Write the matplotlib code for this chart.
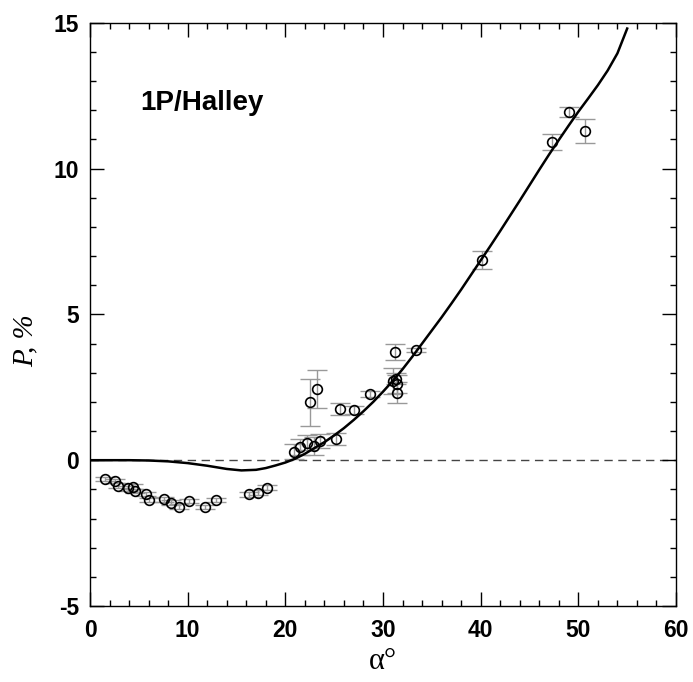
import matplotlib
matplotlib.use("Agg")
import matplotlib.pyplot as plt
from matplotlib.ticker import MultipleLocator

plt.rcParams["axes.unicode_minus"] = False

# Observed data (phase angle, polarization, error)
alpha = [1.5, 2.6, 2.9, 3.9, 4.4, 4.6, 5.7, 6.0, 7.6, 8.3, 9.1, 10.1, 11.8, 12.9,
         16.3, 17.2, 18.1,
         20.9, 21.5, 22.2, 22.9, 23.5, 22.5, 23.2, 25.2, 25.6, 27.0, 28.7,
         31.0, 31.3, 31.4, 31.4, 31.2, 33.4,
         40.1, 47.3, 49.0, 50.7]
pol = [-0.65, -0.71, -0.87, -0.96, -0.91, -1.06, -1.16, -1.36, -1.34, -1.46, -1.59, -1.40, -1.61, -1.36,
       -1.17, -1.11, -0.94,
       0.29, 0.46, 0.60, 0.49, 0.66, 1.98, 2.43, 0.73, 1.76, 1.72, 2.27,
       2.72, 2.80, 2.62, 2.32, 3.70, 3.78,
       6.86, 10.90, 11.94, 11.29]
err = [0.08, 0.08, 0.08, 0.08, 0.08, 0.08, 0.08, 0.08, 0.08, 0.08, 0.08, 0.08, 0.08, 0.08,
       0.08, 0.08, 0.08,
       0.25, 0.28, 0.25, 0.3, 0.25, 0.8, 0.65, 0.2, 0.2, 0.15, 0.1,
       0.45, 0.2, 0.3, 0.35, 0.27, 0.08,
       0.3, 0.27, 0.18, 0.4]

# Fitted curve
curve_x = [0, 2, 4, 6, 8, 10, 12, 14, 15.5, 17, 18, 19, 20, 21, 22, 23, 24, 25, 26, 27, 28,
           29, 30, 31, 32, 33, 34, 35, 36, 37, 38, 39, 40, 41, 42, 43, 44, 45, 46, 47,
           48, 49, 50, 51, 52, 53, 54, 55]
curve_y = [0.0, 0.0, 0.0, -0.01, -0.04, -0.1, -0.19, -0.3, -0.35, -0.33, -0.27, -0.18, -0.08,
           0.05, 0.22, 0.42, 0.62, 0.85, 1.1, 1.38, 1.68, 2.0, 2.35, 2.72, 3.12, 3.55, 4.0,
           4.45, 4.9, 5.37, 5.85, 6.35, 6.85, 7.35, 7.86, 8.38, 8.9, 9.43, 9.96, 10.48,
           10.98, 11.47, 11.95, 12.4, 12.86, 13.36, 13.95, 14.8]

fig = plt.figure(figsize=(6.93, 6.82), dpi=100)
ax = fig.add_axes([0.1299, 0.1114, 0.8456, 0.8553])

ax.axhline(0, color="#444444", lw=1.0, linestyle=(0, (6, 4)), zorder=1)
ax.errorbar(alpha, pol, yerr=err, fmt="none", ecolor="#999999", elinewidth=1.0,
            capsize=7.2, capthick=1.0, zorder=2)
ax.plot(curve_x, curve_y, color="black", lw=1.8, zorder=3)
ax.plot(alpha, pol, "o", mfc="none", mec="black", mew=1.2, ms=7, zorder=4)

ax.set_xlim(0, 60)
ax.set_ylim(-5, 15)
ax.xaxis.set_major_locator(MultipleLocator(10))
ax.xaxis.set_minor_locator(MultipleLocator(2))
ax.yaxis.set_major_locator(MultipleLocator(5))
ax.yaxis.set_minor_locator(MultipleLocator(1))
ax.tick_params(which="both", direction="in", top=True, right=True, width=1)
ax.tick_params(which="major", length=10)
ax.tick_params(axis="x", which="major", pad=9)
ax.tick_params(axis="y", which="major", pad=8)
ax.tick_params(which="minor", length=4)
for lab in ax.get_xticklabels() + ax.get_yticklabels():
    lab.set_fontfamily("Liberation Sans")
    lab.set_fontweight("bold")
    lab.set_fontsize(16.5)
for s in ax.spines.values():
    s.set_linewidth(1.0)

ax.set_xlabel("α°", fontfamily="Liberation Serif", fontsize=22, labelpad=4)
ax.set_ylabel("P, %", fontfamily="Liberation Serif", fontstyle="italic", fontsize=21)
ax.yaxis.set_label_coords(-0.088, 0.455)
ax.text(5.1, 12.25, "1P/Halley", fontfamily="Liberation Sans", fontweight="bold",
        fontsize=20, va="center", ha="left")

fig.savefig("out.png", dpi=100)
